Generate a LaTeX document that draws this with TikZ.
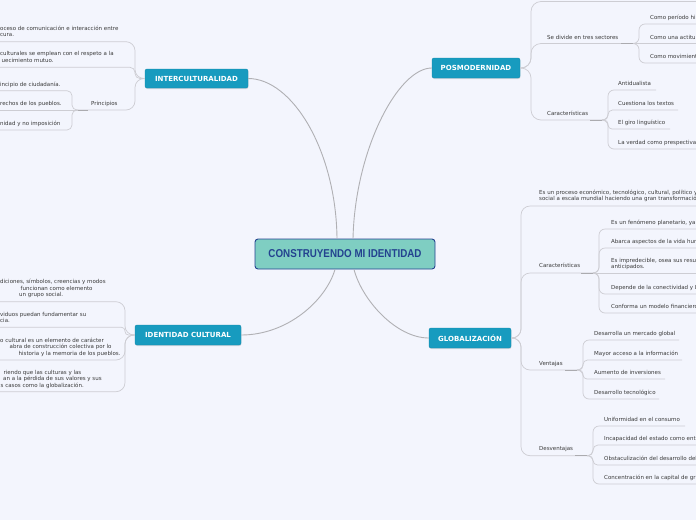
\documentclass[tikz,border=0pt]{standalone}
\usepackage{fontspec}
\usepackage{graphicx}
\setmainfont{DejaVu Sans}
\newfontfamily\centfont{Liberation Sans}
\usetikzlibrary{shadows,calc}
\definecolor{bgc}{HTML}{F3F5FD}
\definecolor{mainc}{HTML}{179BBF}
\definecolor{mainb}{HTML}{1389AD}
\definecolor{centf}{HTML}{7FCEC2}
\definecolor{centb}{HTML}{23428F}
\definecolor{txt}{HTML}{3A3A3A}
\definecolor{lnc}{HTML}{CDCDD3}
\definecolor{stubc}{HTML}{ABABAF}
\definecolor{mln}{HTML}{B0B0B4}
\tikzset{
  leaf/.style={anchor=west, inner sep=0pt, text height=4.1pt, text depth=1.2pt,
    font=\fontsize{5.5}{6}\selectfont, text=txt},
  topic/.style={rounded corners=2pt, fill=mainc, draw=mainb, line width=0.4pt,
    text=white, font=\bfseries\fontsize{7}{8}\selectfont, inner sep=0pt,
    drop shadow={opacity=0.25, shadow xshift=0.4pt, shadow yshift=-1pt}},
  conn/.style={draw=lnc, line width=0.7pt},
  stub/.style={draw=stubc, line width=1pt},
  mconn/.style={draw=mln, line width=0.9pt},
}
% #1 name, #2 parent end, #3 bracket x, #4 child y, #5 end x, #6 radius
\newcommand{\mmbranch}[6]{%
  \coordinate (#1-s) at (#3,#4);
  \coordinate (#1-e) at (#5,#4);
  \draw[conn, rounded corners=#6] (#2) -| (#1-s) -- (#1-e);}
\newcommand{\mmline}[4]{%
  \coordinate (#1-e) at (#3,#4);
  \draw[conn] (#2) -- (#1-e);}
\newcommand{\mmstub}[2]{\draw[stub] ([xshift=#2]#1-e) -- (#1-e);}
\begin{document}
\begin{tikzpicture}[x=1pt,y=-1pt]
\useasboundingbox (0,0) rectangle (696,520);
\fill[bgc] (0,0) rectangle (696,520);
\clip (0,0) rectangle (696,520);

% central and main topics
\node[rounded corners=3pt, fill=centf, draw=centb, line width=0.9pt,
  minimum width=180pt, minimum height=30pt, inner sep=0pt, text=centb,
  font=\centfont\bfseries\fontsize{11.4}{13}\selectfont] (cent) at (345,254)
  {\scalebox{0.86}[1]{CONSTRUYENDO MI IDENTIDAD}};
\node[topic, minimum width=103pt, minimum height=19pt] (inter) at (196.5,78.5) {INTERCULTURALIDAD};
\node[topic, minimum width=88pt, minimum height=20pt] (pos) at (476,68) {POSMODERNIDAD};
\node[topic, minimum width=82pt, minimum height=20pt] (glob) at (470,338) {GLOBALIZACIÓN};
\node[topic, minimum width=106pt, minimum height=20pt] (ident) at (188,335) {IDENTIDAD CULTURAL};

\draw[mconn] (inter.east) .. controls (292,78.5) and (336,150) .. ([xshift=-8pt]cent.north);
\draw[mconn] (pos.west) .. controls (398,68) and (355,150) .. ([xshift=8pt]cent.north);
\draw[mconn] (ident.east) .. controls (288,335) and (326,300) .. ([xshift=-10pt]cent.south);
\draw[mconn] (glob.west) .. controls (396,338) and (362,300) .. ([xshift=9pt]cent.south);

% ---------- POSMODERNIDAD ----------
\mmbranch{pt}{pos.east}{531}{1.5}{700}{10pt}
\node[leaf] (sd) at (547,38) {Se divide en tres sectores};
\mmbranch{sd}{pos.east}{531}{43.5}{633}{10pt}
\mmstub{sd}{-12pt}
\node[leaf] (sd1) at (650,18) {Como período hi};
\mmbranch{sd1}{sd-e}{639}{24}{700}{6pt}
\node[leaf] (sd2) at (650,37.7) {Como una actitu};
\mmline{sd2}{sd-e}{700}{43.5}
\node[leaf] (sd3) at (650,57) {Como movimient};
\mmbranch{sd3}{sd-e}{639}{63}{700}{6pt}

\node[leaf] (pc) at (547,114) {Características};
\mmbranch{pc}{pos.east}{531}{120}{602}{10pt}
\mmstub{pc}{-12pt}
\node[leaf] (pc1) at (618,84) {Antidualista};
\mmbranch{pc1}{pc-e}{608}{90}{656}{6pt}
\node[leaf] (pc2) at (618,104) {Cuestiona los textos};
\mmbranch{pc2}{pc-e}{608}{110}{678}{4.5pt}
\node[leaf] (pc3) at (618,123) {El giro linguístico};
\mmbranch{pc3}{pc-e}{608}{129}{670}{4pt}
\node[leaf] (pc4) at (618,143) {La verdad como prespectiva};
\mmbranch{pc4}{pc-e}{608}{149}{700}{6pt}

% ---------- GLOBALIZACION ----------
\node[leaf] (g1a) at (539,193) {Es un proceso económico, tecnológico, cultural, político y};
\node[leaf] (g1b) at (539,199.5) {social a escala mundial haciendo una gran transformació};
\mmbranch{g1}{glob.east}{521}{206}{700}{9pt}

\node[leaf] (gc) at (539,266) {Características};
\mmbranch{gc}{glob.east}{521}{273}{593}{9pt}
\mmstub{gc}{-12pt}
\node[leaf] (gc1) at (611,223) {Es un fenómeno planetario, ya};
\mmbranch{gc1}{gc-e}{599}{229}{700}{6pt}
\node[leaf] (gc2) at (611,242) {Abarca aspectos de la vida hum};
\mmbranch{gc2}{gc-e}{599}{248}{700}{6pt}
\node[leaf] (gc3a) at (611,261) {Es impredecible, osea sus resu};
\node[leaf] (gc3b) at (611,267) {anticipados.};
\mmline{gc3}{gc-e}{700}{273}
\node[leaf] (gc4) at (611,288) {Depende de la conectividad y L};
\mmbranch{gc4}{gc-e}{599}{294}{700}{6pt}
\node[leaf] (gc5) at (611,307) {Conforma un modelo financiero};
\mmbranch{gc5}{gc-e}{599}{313}{700}{6pt}

\node[leaf] (gv) at (539,364) {Ventajas};
\mmbranch{gv}{glob.east}{521}{370}{577}{9pt}
\mmstub{gv}{-12pt}
\node[leaf] (gv1) at (594,334) {Desarrolla un mercado global};
\mmbranch{gv1}{gv-e}{583}{340}{679}{6pt}
\node[leaf] (gv2) at (594,354) {Mayor acceso a la información};
\mmbranch{gv2}{gv-e}{583}{360}{682}{4.5pt}
\node[leaf] (gv3) at (594,373) {Aumento de inversiones};
\mmbranch{gv3}{gv-e}{583}{379}{665}{4pt}
\node[leaf] (gv4) at (594,393) {Desarrollo tecnológico};
\mmbranch{gv4}{gv-e}{583}{399}{659}{6pt}

\node[leaf] (gd) at (539,449) {Desventajas};
\mmbranch{gd}{glob.east}{521}{455.7}{587}{9pt}
\mmstub{gd}{-12pt}
\node[leaf] (gd1) at (604,420) {Uniformidad en el consumo};
\mmbranch{gd1}{gd-e}{593}{426}{685}{6pt}
\node[leaf] (gd2) at (604,439) {Incapacidad del estado como ent};
\mmbranch{gd2}{gd-e}{593}{445}{700}{5pt}
\node[leaf] (gd3) at (604,459) {Obstaculización del desarrollo del};
\mmbranch{gd3}{gd-e}{593}{465}{700}{4.5pt}
\node[leaf] (gd4) at (604,478) {Concentración en la capital de gr};
\mmbranch{gd4}{gd-e}{593}{484}{700}{6pt}

% ---------- INTERCULTURALIDAD ----------
\node[leaf] (i1a) at (0,29) {oceso de comunicación e interacción entre};
\node[leaf] (i1b) at (0,34.7) {cura.};
\mmbranch{i1}{inter.west}{135}{41.7}{-5}{9pt}
\node[leaf] (i2a) at (0,54.3) {culturales se emplean con el respeto a la};
\node[leaf] (i2b) at (1.5,61) {uecimiento mutuo.};
\mmbranch{i2}{inter.west}{135}{67.3}{-5}{5pt}
\node[leaf] (pr) at (91,104) {Principios};
\mmbranch{pr}{inter.west}{135}{110}{78}{9pt}
\mmstub{pr}{10pt}
\node[leaf] (pr1) at (0,85) {incipio de ciudadanía.};
\mmbranch{pr1}{pr-e}{72}{90.7}{-5}{5pt}
\node[leaf] (pr2) at (0,104) {rechos de los pueblos.};
\mmline{pr2}{pr-e}{-5}{110}
\node[leaf] (pr3) at (0,124) {nidad y no imposición};
\mmbranch{pr3}{pr-e}{72}{130}{-5}{5pt}

% ---------- IDENTIDAD CULTURAL ----------
\node[leaf] (d1a) at (0,282) {diciones, símbolos, creencias y modos};
\node[leaf] (d1b) at (20.5,288.7) {funcionan como elemento};
\node[leaf] (d1c) at (19,294.7) {un grupo social.};
\mmbranch{d1}{ident.west}{125}{301.7}{-5}{9pt}
\node[leaf] (d2a) at (0,315) {viduos puedan fundamentar su};
\node[leaf] (d2b) at (0,321) {cia.};
\mmbranch{d2}{ident.west}{125}{327.3}{-5}{3.5pt}
\node[leaf] (d3a) at (0,340.7) {o cultural es un elemento de carácter};
\node[leaf] (d3b) at (9.5,347.3) {abra de construcción colectiva por lo};
\node[leaf] (d3c) at (18.5,354) {historia y la memoria de los pueblos.};
\mmbranch{d3}{ident.west}{125}{360}{-5}{9pt}
\node[leaf] (d4a) at (3.5,372.7) {riendo que las culturas y las};
\node[leaf] (d4b) at (3,379) {an a la pérdida de sus valores y sus};
\node[leaf] (d4c) at (0.5,386) {s casos como la globalización.};
\mmbranch{d4}{ident.west}{125}{391.7}{-5}{9pt}
\end{tikzpicture}
\end{document}
